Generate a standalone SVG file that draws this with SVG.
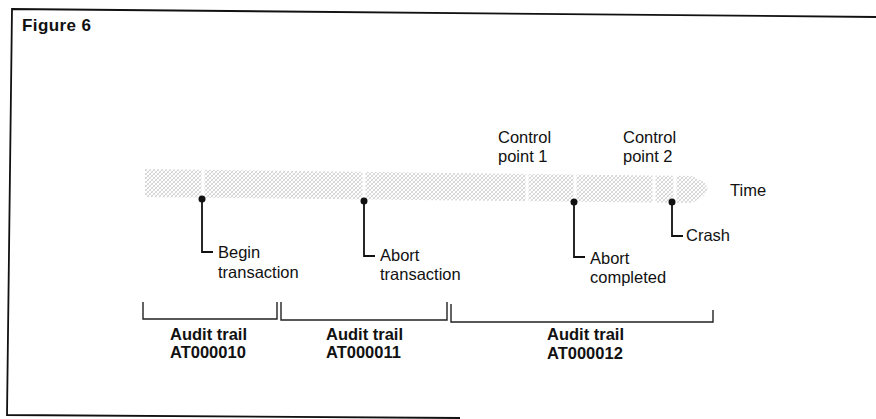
<svg xmlns="http://www.w3.org/2000/svg" width="876" height="419" viewBox="0 0 876 419">
  <defs>
    <!-- halftone crosshatch used for the time bar -->
    <pattern id="hatch" width="4" height="4" patternUnits="userSpaceOnUse">
      <rect width="4" height="4" fill="#ffffff"/>
      <path d="M0,4 L4,0 M-1,1 L1,-1 M3,5 L5,3" stroke="#b4b4b4" stroke-width="0.6"/>
      <path d="M0,0 L4,4 M-1,3 L1,5 M3,-1 L5,1" stroke="#c6c6c6" stroke-width="0.5"/>
    </pattern>
    <style>
      .lbl { font-family: "Liberation Sans", Arial, sans-serif; font-size: 16.5px; fill: #111; }
      .bold { font-family: "Liberation Sans", Arial, sans-serif; font-size: 16.5px; font-weight: bold; fill: #111; }
      .pin { fill: none; stroke: #111; stroke-width: 1.8; }
      .dot { fill: #111; }
      .brk { fill: none; stroke: #222; stroke-width: 1.4; }
      .gap { stroke: #ffffff; stroke-width: 3; }
    </style>
  </defs>

  <rect width="876" height="419" fill="#ffffff"/>

  <!-- frame -->
  <path d="M876,17 L12,9 L7,415 L460,418" fill="none" stroke="#111" stroke-width="1.8"/>
  <text x="22" y="31" class="bold" style="font-size:17px;letter-spacing:0.4px">Figure 6</text>

  <!-- time bar -->
  <g id="timeline">
    <polygon points="145,169 692,176 704,182 708,189 704,196 692,203 145,197" fill="url(#hatch)"/>
    <g class="gap">
      <line x1="203" y1="165" x2="203" y2="205"/>
      <line x1="364" y1="165" x2="364" y2="205"/>
      <line x1="527" y1="165" x2="527" y2="205"/>
      <line x1="575" y1="165" x2="575" y2="205"/>
      <line x1="654" y1="165" x2="654" y2="207"/>
      <line x1="675" y1="165" x2="675" y2="207"/>
    </g>
    <text x="730" y="196" class="lbl">Time</text>
  </g>

  <g id="control-point-1">
    <text x="498" y="143" class="lbl">Control</text>
    <text x="498" y="162" class="lbl">point 1</text>
  </g>
  <g id="control-point-2">
    <text x="623" y="143" class="lbl">Control</text>
    <text x="623" y="162" class="lbl">point 2</text>
  </g>

  <!-- event markers -->
  <g id="connectors">
    <path class="pin" d="M202,199 L202,252 L213,252"/>
    <path class="pin" d="M364,201 L364,256 L375,256"/>
    <path class="pin" d="M574,202 L574,257 L585,257"/>
    <path class="pin" d="M672,202 L672,236 L683,236"/>
    <circle class="dot" cx="202" cy="199" r="3.5"/>
    <circle class="dot" cx="364" cy="201" r="3.5"/>
    <circle class="dot" cx="574" cy="202" r="3.5"/>
    <circle class="dot" cx="672" cy="202" r="3.5"/>
  </g>

  <g id="begin-transaction">
    <text x="218" y="258" class="lbl">Begin</text>
    <text x="218" y="278" class="lbl">transaction</text>
  </g>
  <g id="abort-transaction">
    <text x="380" y="261" class="lbl">Abort</text>
    <text x="380" y="280" class="lbl">transaction</text>
  </g>
  <g id="abort-completed">
    <text x="590" y="264" class="lbl">Abort</text>
    <text x="590" y="283" class="lbl">completed</text>
  </g>
  <g id="crash">
    <text x="686" y="241" class="lbl">Crash</text>
  </g>

  <!-- audit trail spans -->
  <g id="audit-trail-10">
    <path class="brk" d="M143,302 L143,319 L277,319 L277,302"/>
    <text x="170" y="340" class="bold">Audit trail</text>
    <text x="170" y="358" class="bold">AT000010</text>
  </g>
  <g id="audit-trail-11">
    <path class="brk" d="M281,302 L281,320 L447,320 L447,302"/>
    <text x="326" y="340" class="bold">Audit trail</text>
    <text x="326" y="358" class="bold">AT000011</text>
  </g>
  <g id="audit-trail-12">
    <path class="brk" d="M451,304 L451,322 L713,322 L713,310"/>
    <text x="547" y="340" class="bold">Audit trail</text>
    <text x="547" y="359" class="bold">AT000012</text>
  </g>
</svg>
